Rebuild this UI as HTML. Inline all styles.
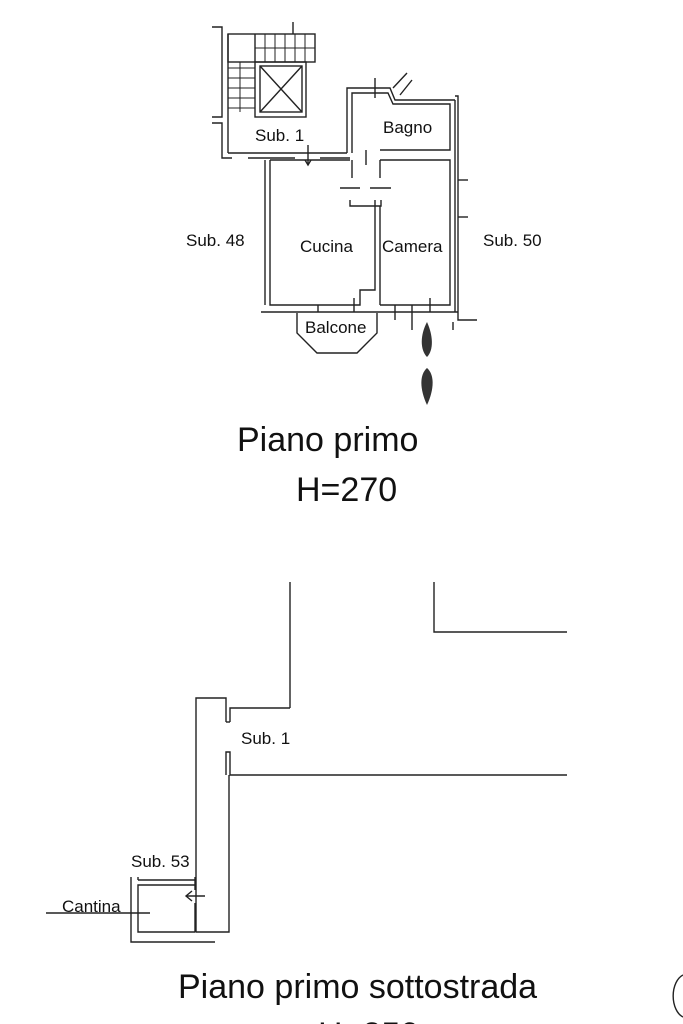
<!DOCTYPE html>
<html><head><meta charset="utf-8"><style>
html,body{margin:0;padding:0;background:#fff;}
svg{display:block;}
text{font-family:"Liberation Sans",Arial,sans-serif;fill:#111;}
</style></head><body>
<svg width="683" height="1024" viewBox="0 0 683 1024" xmlns="http://www.w3.org/2000/svg">
<g stroke="#222" stroke-width="1.4" fill="none">
<polyline points="212,27 222,27 222,117 212,117"/>
<polyline points="212,123 222,123 222,158 232,158"/>
<rect x="228" y="34" width="87" height="28"/>
<line x1="228" y1="34" x2="228" y2="153"/>
<line x1="255" y1="34" x2="255" y2="62"/>
<g stroke-width="1">
<line x1="265" y1="34" x2="265" y2="62"/><line x1="275" y1="34" x2="275" y2="62"/><line x1="285" y1="34" x2="285" y2="62"/><line x1="295" y1="34" x2="295" y2="62"/><line x1="305" y1="34" x2="305" y2="62"/>
<line x1="255" y1="48" x2="315" y2="48"/>
<line x1="228" y1="68" x2="255" y2="68"/><line x1="228" y1="78" x2="255" y2="78"/><line x1="228" y1="88" x2="255" y2="88"/><line x1="228" y1="98" x2="255" y2="98"/><line x1="228" y1="108" x2="255" y2="108"/>
<line x1="240" y1="62" x2="240" y2="112"/>
</g>
<rect x="255" y="62" width="51" height="55"/>
<rect x="260" y="66" width="42" height="46"/>
<line x1="260" y1="66" x2="302" y2="112"/><line x1="302" y1="66" x2="260" y2="112"/>
<line x1="293" y1="22" x2="293" y2="34"/>
<line x1="228" y1="153" x2="347" y2="153"/>
<line x1="248" y1="158" x2="295" y2="158"/>
<line x1="320" y1="158" x2="350" y2="158"/>
<line x1="308" y1="145" x2="308" y2="165"/>
<polyline points="305,160 308,165 311,160"/>
<polyline points="347,153 347,88 390,88 395,100 455,100"/>
<polyline points="352,153 352,93 388,93 393,104 450,104 450,150 380,150"/>
<line x1="375" y1="78" x2="375" y2="98"/>
<line x1="393" y1="88" x2="407" y2="73"/><line x1="400" y1="95" x2="412" y2="80"/>
<line x1="366" y1="150" x2="366" y2="165"/>
<polyline points="455,96 458,96 458,320 477,320"/>
<polyline points="455,100 455,312"/>
<line x1="458" y1="180" x2="468" y2="180"/><line x1="458" y1="217" x2="468" y2="217"/>
<line x1="453" y1="322" x2="453" y2="330"/>
<polyline points="265,160 265,305"/>
<polyline points="270,160 270,305 360,305 360,290 375,290 375,200"/>
<line x1="270" y1="160" x2="350" y2="160"/>
<line x1="352" y1="160" x2="352" y2="178"/><line x1="380" y1="160" x2="380" y2="178"/>
<line x1="340" y1="188" x2="360" y2="188"/><line x1="370" y1="188" x2="391" y2="188"/>
<polyline points="350,200 350,206 381,206 381,200"/>
<line x1="380" y1="206" x2="380" y2="305"/>
<polyline points="380,160 450,160 450,305 380,305"/>
<line x1="261" y1="312" x2="458" y2="312"/>
<line x1="318" y1="305" x2="318" y2="312"/><line x1="354" y1="298" x2="354" y2="312"/>
<line x1="395" y1="305" x2="395" y2="320"/><line x1="412" y1="305" x2="412" y2="330"/><line x1="430" y1="298" x2="430" y2="312"/>
<polyline points="297,313 297,333 317,353 357,353 377,333 377,313"/>
<line x1="290" y1="582" x2="290" y2="708"/>
<polyline points="434,582 434,632 567,632"/>
<polyline points="230,722 230,708 290,708"/>
<polyline points="226,722 226,698 196,698 196,932 229,932 229,775"/>
<line x1="226" y1="722" x2="230" y2="722"/>
<polyline points="226,775 226,752 230,752 230,775 567,775"/>
<polyline points="195,932 138,932 138,885 195,885"/>
<line x1="138" y1="880" x2="195" y2="880"/>
<line x1="138" y1="877" x2="138" y2="880"/>
<line x1="195" y1="877" x2="195" y2="890"/>
<line x1="195" y1="903" x2="195" y2="932"/>
<polyline points="131,877 131,942 215,942"/>
<line x1="46" y1="913" x2="150" y2="913"/>
<line x1="186" y1="896" x2="205" y2="896"/>
<polyline points="192,891 186,896 192,901"/>
<path d="M683,975 A14,22 0 0 0 683,1017"/>
</g>
<path d="M427,322 C420,335 420,350 427,357 C434,350 433,335 427,322 Z" fill="#333"/>
<path d="M427,405 C420,390 419,375 427,368 C435,375 434,390 427,405 Z" fill="#333"/>
<g font-size="17">
<text x="255" y="141">Sub. 1</text>
<text x="383" y="133">Bagno</text>
<text x="186" y="246">Sub. 48</text>
<text x="300" y="252">Cucina</text>
<text x="382" y="252">Camera</text>
<text x="483" y="246">Sub. 50</text>
<text x="305" y="333">Balcone</text>
<text x="241" y="744">Sub. 1</text>
<text x="131" y="867">Sub. 53</text>
<text x="62" y="912">Cantina</text>
</g>
<text x="237" y="451" font-size="34">Piano primo</text>
<text x="296" y="501" font-size="34">H=270</text>
<text x="178" y="998" font-size="34">Piano primo sottostrada</text>
<text x="318" y="1046" font-size="34">H=250</text>
</svg>
</body></html>
